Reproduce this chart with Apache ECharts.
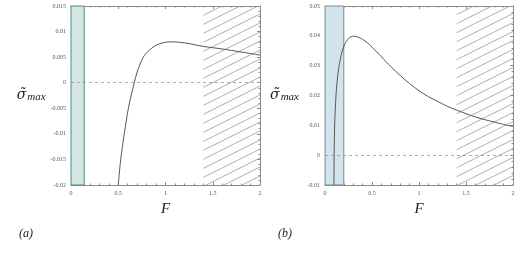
<!DOCTYPE html>
<html><head><meta charset="utf-8">
<script src="https://cdn.jsdelivr.net/npm/echarts@6/dist/echarts.min.js"></script>
<style>html,body{margin:0;padding:0;background:#fff}#c{width:532px;height:257px}</style>
</head><body><div id="c"></div>
<script>
// Panel (a)
const aF = [0.500,0.526,0.564,0.607,0.640,0.670,0.700,0.765,0.830,0.907,0.970,1.050,1.200,1.400,1.600,1.800,2.000];
const aSigma = [-0.0200,-0.0150,-0.0100,-0.0050,-0.0022,0.0000,0.0021,0.0050,0.0064,0.0074,0.0078,0.0080,0.0078,0.0071,0.0066,0.0060,0.0054];
const aYTicks = {min:-0.02, max:0.015, interval:0.005};
const aShade = [0, 0.14];
// Panel (b)
const bF = [0.095,0.097,0.100,0.105,0.115,0.130,0.150,0.180,0.210,0.250,0.303,0.350,0.400,0.450,0.500,0.550,0.600,0.650,0.700,0.800,0.900,1.000,1.100,1.200,1.300,1.400,1.500,1.600,1.700,1.800,1.900,2.000];
const bSigma = [-0.0100,0.0000,0.0060,0.0120,0.0190,0.0250,0.0300,0.0345,0.0372,0.0391,0.0399,0.0396,0.0388,0.0377,0.0362,0.0346,0.0330,0.0313,0.0297,0.0267,0.0240,0.0216,0.0196,0.0180,0.0164,0.0151,0.0139,0.0128,0.0119,0.0111,0.0103,0.0096];
const bYTicks = {min:-0.01, max:0.05, interval:0.01};
const bShade = [0, 0.2];
// shared
const xTicks = {min:0, max:2, interval:0.5};
const hatchRange = [1.4, 2];
const panelLabels = ['(a)', '(b)'];

function hatchPattern(){
  const w=18,h=9,c=document.createElement('canvas');
  c.width=w;c.height=h;const g=c.getContext('2d');
  g.strokeStyle='#9a9a9a';g.lineWidth=0.8;
  [-h,0,h].forEach(o=>{g.beginPath();g.moveTo(0,h+o);g.lineTo(w,o);g.stroke();});
  return c;
}
const pat = {image: hatchPattern(), repeat:'repeat'};
const serif = '"Liberation Serif","DejaVu Serif",serif';
const axisCol = '#8a8a8a';

function xAx(gi, top){
  return {gridIndex:gi, type:'value', min:xTicks.min, max:xTicks.max, interval:xTicks.interval,
    position: top?'top':'bottom',
    name: top?'':'F', nameLocation:'middle', nameGap:17,
    nameTextStyle:{fontFamily:serif, fontStyle:'italic', fontSize:15, color:'#222'},
    axisLine:{onZero:false, lineStyle:{color:axisCol, width:1}},
    axisTick:{inside:true, length:3, lineStyle:{color:axisCol}},
    minorTick:{show:true, splitNumber:5, length:1.5, lineStyle:{color:axisCol}},
    axisLabel:{show:!top, fontFamily:serif, fontSize:6, color:'#555', margin:5},
    splitLine:{show:false}};
}
function yAx(gi, t, right, gap){
  return {gridIndex:gi, type:'value', min:t.min, max:t.max, interval:t.interval,
    position: right?'right':'left',
    name: right?'':'{s|σ̃}{m|max}', nameLocation:'middle', nameGap:gap, nameRotate:0,
    nameTextStyle:{rich:{s:{fontFamily:'"DejaVu Serif",serif', fontStyle:'italic', fontSize:14, color:'#222'},
                         m:{fontFamily:serif, fontStyle:'italic', fontSize:11, color:'#222', padding:[4,0,0,1]}}},
    axisLine:{onZero:false, lineStyle:{color:axisCol, width:1}},
    axisTick:{inside:true, length:3, lineStyle:{color:axisCol}},
    minorTick:{show:true, splitNumber:5, length:1.5, lineStyle:{color:axisCol}},
    axisLabel:{show:!right, fontFamily:serif, fontSize:6, color:'#555', margin:5},
    splitLine:{show:false}};
}
function series(gi, F, S, shade, fill, border){
  return {type:'line', xAxisIndex:gi*2, yAxisIndex:gi*2, data:F.map((f,i)=>[f,S[i]]),
    smooth:0.3, showSymbol:false, symbol:'none', lineStyle:{color:'#555', width:1}, z:5,
    markArea:{silent:true, data:[
      [{xAxis:shade[0], itemStyle:{color:fill, borderColor:border, borderWidth:1}},{xAxis:shade[1]}],
      [{xAxis:hatchRange[0], itemStyle:{color:pat, borderWidth:0}},{xAxis:hatchRange[1]}]
    ]},
    markLine:{silent:true, symbol:'none', label:{show:false},
      lineStyle:{color:'#999', type:[3,3], width:0.8}, data:[{yAxis:0}]}
  };
}
const chart = echarts.init(document.getElementById('c'), null, {renderer:'canvas'});
chart.setOption({
  animation:false,
  grid:[{left:71, right:272, top:6, bottom:72},{left:325, right:19, top:6, bottom:72}],
  xAxis:[xAx(0,false), xAx(0,true), xAx(1,false), xAx(1,true)],
  yAxis:[yAx(0,aYTicks,false,24), yAx(0,aYTicks,true,0), yAx(1,bYTicks,false,26), yAx(1,bYTicks,true,0)],
  series:[series(0,aF,aSigma,aShade,'#d3e6e3','#4f8a84'), series(1,bF,bSigma,bShade,'#d2e3ea','#6f8f9c')],
  graphic:[
    {type:'text', left:19, top:228, style:{text:panelLabels[0], font:'italic 12px '+serif, fill:'#222'}},
    {type:'text', left:278, top:228, style:{text:panelLabels[1], font:'italic 12px '+serif, fill:'#222'}}
  ]
});
</script></body></html>
